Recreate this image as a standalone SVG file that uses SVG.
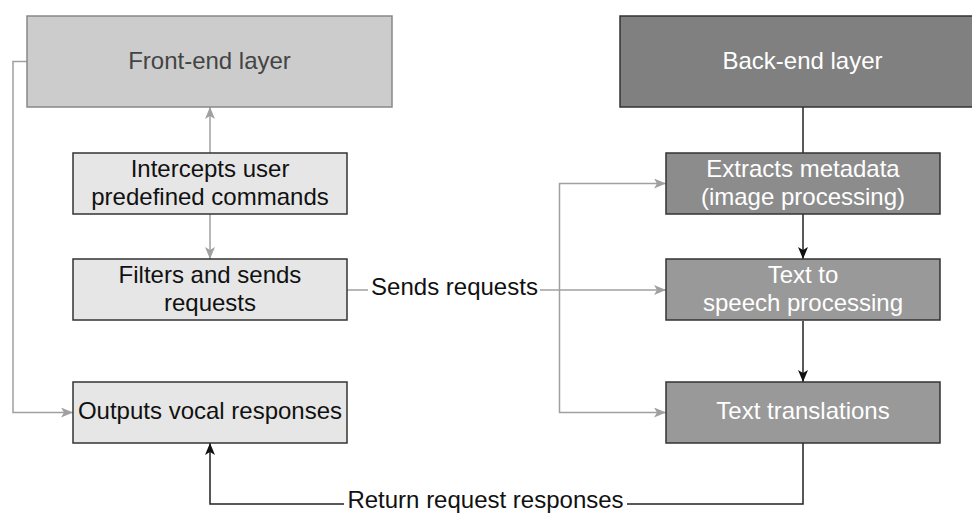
<svg xmlns="http://www.w3.org/2000/svg" width="972" height="513" viewBox="0 0 972 513">
  <style>
    text { font-family: "Liberation Sans", Arial, Helvetica, sans-serif; font-size: 24px; text-anchor: middle; }
    .light { fill: #e6e6e6; stroke: #333333; stroke-width: 1.5; }
    .dark { stroke: #333333; stroke-width: 1.5; }
    .ink { fill: #111111; }
    .white { fill: #ffffff; }
    .grayline { fill: none; stroke: #a0a0a0; stroke-width: 1.5; }
    .blackline { fill: none; stroke: #222222; stroke-width: 1.5; }
  </style>
  <defs>
    <marker id="arrowGray" viewBox="0 0 12 10" refX="12" refY="5" markerWidth="12" markerHeight="10" markerUnits="userSpaceOnUse" orient="auto">
      <path d="M0,0 L12,5 L0,10 L3,5 Z" fill="#a0a0a0"/>
    </marker>
    <marker id="arrowBlack" viewBox="0 0 12 10" refX="12" refY="5" markerWidth="12" markerHeight="10" markerUnits="userSpaceOnUse" orient="auto">
      <path d="M0,0 L12,5 L0,10 L3,5 Z" fill="#111111"/>
    </marker>
  </defs>
  <rect width="972" height="513" fill="#ffffff"/>

  <!-- connectors -->
  <g id="connectors">
    <!-- front-end layer to outputs -->
    <path class="grayline" d="M27,61.5 H13 V412.5 H73" marker-end="url(#arrowGray)"/>
    <!-- intercepts up to front-end layer -->
    <path class="grayline" d="M210,153 V107" marker-end="url(#arrowGray)"/>
    <!-- intercepts down to filters -->
    <path class="grayline" d="M210,214 V259" marker-end="url(#arrowGray)"/>
    <!-- sends requests fan-out -->
    <path class="grayline" d="M347,290 H368"/>
    <path class="grayline" d="M540,290 H666" marker-end="url(#arrowGray)"/>
    <path class="grayline" d="M559.5,290 V183.5 H666" marker-end="url(#arrowGray)"/>
    <path class="grayline" d="M559.5,290 V412.5 H666" marker-end="url(#arrowGray)"/>
    <text x="454.5" y="295" class="ink">Sends requests</text>
    <!-- back-end chain -->
    <path class="blackline" d="M803,107 V153"/>
    <path class="blackline" d="M803,214 V259" marker-end="url(#arrowBlack)"/>
    <path class="blackline" d="M803,321 V382" marker-end="url(#arrowBlack)"/>
    <!-- return responses -->
    <path class="blackline" d="M803,443 V504 H627"/>
    <path class="blackline" d="M344,504 H210 V443" marker-end="url(#arrowBlack)"/>
    <text x="485.5" y="508" class="ink">Return request responses</text>
  </g>

  <!-- front-end nodes -->
  <g id="front-end-layer">
    <rect x="27" y="16" width="365" height="91" fill="#cccccc" stroke="#888888" stroke-width="1.5"/>
    <text x="209.5" y="68.5" fill="#444444">Front-end layer</text>
  </g>
  <g id="intercepts">
    <rect class="light" x="73" y="153" width="274" height="61"/>
    <text class="ink" x="210" y="176.5">Intercepts user</text>
    <text class="ink" x="210" y="204.5">predefined commands</text>
  </g>
  <g id="filters">
    <rect class="light" x="73" y="259" width="274" height="61"/>
    <text class="ink" x="210" y="283">Filters and sends</text>
    <text class="ink" x="210" y="311">requests</text>
  </g>
  <g id="outputs">
    <rect class="light" x="73" y="382" width="274" height="61"/>
    <text class="ink" x="210" y="418.5">Outputs vocal responses</text>
  </g>

  <!-- back-end nodes -->
  <g id="back-end-layer">
    <rect class="dark" x="620" y="16" width="365" height="91" fill="#808080"/>
    <text class="white" x="802.5" y="68.5">Back-end layer</text>
  </g>
  <g id="extracts">
    <rect class="dark" x="666" y="153" width="274" height="61" fill="#8c8c8c"/>
    <text class="white" x="803" y="176.5">Extracts metadata</text>
    <text class="white" x="803" y="204.5">(image processing)</text>
  </g>
  <g id="text-to-speech">
    <rect class="dark" x="666" y="259" width="274" height="61" fill="#999999"/>
    <text class="white" x="803" y="283">Text to</text>
    <text class="white" x="803" y="311">speech processing</text>
  </g>
  <g id="translations">
    <rect class="dark" x="666" y="382" width="274" height="61" fill="#999999"/>
    <text class="white" x="803" y="418.5">Text translations</text>
  </g>
</svg>
